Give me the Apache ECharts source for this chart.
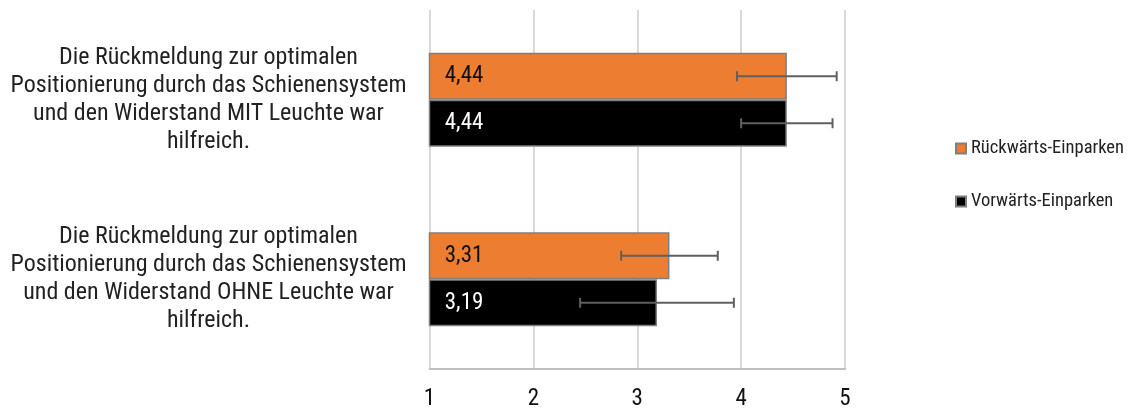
<!DOCTYPE html>
<html><head><meta charset="utf-8">
<script src="https://cdn.jsdelivr.net/npm/echarts@6/dist/echarts.min.js"></script>
<style>html,body{margin:0;padding:0;background:#fff}#c{width:1128px;height:411px}</style>
</head><body><div id="c"></div>
<script>
const categories = [
  "Die Rückmeldung zur optimalen\nPositionierung durch das Schienensystem\nund den Widerstand MIT Leuchte war\nhilfreich.",
  "Die Rückmeldung zur optimalen\nPositionierung durch das Schienensystem\nund den Widerstand OHNE Leuchte war\nhilfreich."
];
const seriesNames = ["Rückwärts-Einparken", "Vorwärts-Einparken"];
const rueckwaerts = [4.44, 3.31];
const vorwaerts = [4.44, 3.19];
const rueckwaertsErr = [0.48, 0.465];
const vorwaertsErr = [0.44, 0.74];
const xTicks = [1, 2, 3, 4, 5];

const FONT = "'Roboto Condensed','Liberation Sans Narrow','DejaVu Sans Condensed',Roboto,sans-serif";
const chart = echarts.init(document.getElementById('c'));

function errSeries(vals, errs, offset) {
  return {
    type: 'custom',
    silent: true,
    z: 10,
    data: vals.map((v, i) => [v - errs[i], v + errs[i], i]),
    encode: { x: [0, 1], y: 2 },
    renderItem: function (params, api) {
      const lo = api.coord([api.value(0), api.value(2)]);
      const hi = api.coord([api.value(1), api.value(2)]);
      const y = lo[1] + offset;
      const h = 5;
      const st = { stroke: '#5f5f5f', lineWidth: 2 };
      return { type: 'group', children: [
        { type: 'line', shape: { x1: lo[0], y1: y, x2: hi[0], y2: y }, style: st },
        { type: 'line', shape: { x1: lo[0], y1: y - h, x2: lo[0], y2: y + h }, style: st },
        { type: 'line', shape: { x1: hi[0], y1: y - h, x2: hi[0], y2: y + h }, style: st }
      ]};
    }
  };
}

const fmt = p => String(p.value.toFixed(2)).replace('.', ',');

chart.setOption({
  animation: false,
  textStyle: { fontFamily: FONT },
  grid: { left: 429.5, right: 283, top: 10, bottom: 40 },
  legend: {
    orient: 'vertical', left: 950, top: 134,
    itemWidth: 10, itemHeight: 10, itemGap: 34,
    icon: 'rect',
    textStyle: { fontFamily: FONT, fontSize: 18.5, color: '#222' },
    data: seriesNames
  },
  xAxis: {
    type: 'value', min: 1, max: 5, interval: 1,
    axisLine: { show: true, lineStyle: { color: '#bfbfbf', width: 2 } },
    axisTick: { show: false },
    splitLine: { lineStyle: { color: '#d9d9d9', width: 2 } },
    axisLabel: { fontFamily: FONT, fontSize: 23, color: '#111', margin: 19,
      formatter: v => xTicks.includes(v) ? String(v) : '' }
  },
  yAxis: {
    type: 'category', inverse: true, data: categories,
    axisLine: { show: false }, axisTick: { show: false },
    axisLabel: { fontFamily: FONT, fontSize: 24, color: '#222', align: 'center',
      margin: 221, lineHeight: 28 }
  },
  series: [
    { name: seriesNames[0], type: 'bar', data: rueckwaerts, barWidth: 47, barGap: '0%',
      itemStyle: { color: '#ed7d31', borderColor: '#7f7f7f', borderWidth: 1.5 },
      label: { show: true, position: 'insideLeft', distance: 16, formatter: fmt,
        fontFamily: FONT, fontSize: 23, color: '#111' } },
    { name: seriesNames[1], type: 'bar', data: vorwaerts, barWidth: 47, barGap: '0%',
      itemStyle: { color: '#000000', borderColor: '#7f7f7f', borderWidth: 1.5 },
      label: { show: true, position: 'insideLeft', distance: 16, formatter: fmt,
        fontFamily: FONT, fontSize: 23, color: '#fff' } },
    errSeries(rueckwaerts, rueckwaertsErr, -23.5),
    errSeries(vorwaerts, vorwaertsErr, 23.5)
  ]
});
</script></body></html>
